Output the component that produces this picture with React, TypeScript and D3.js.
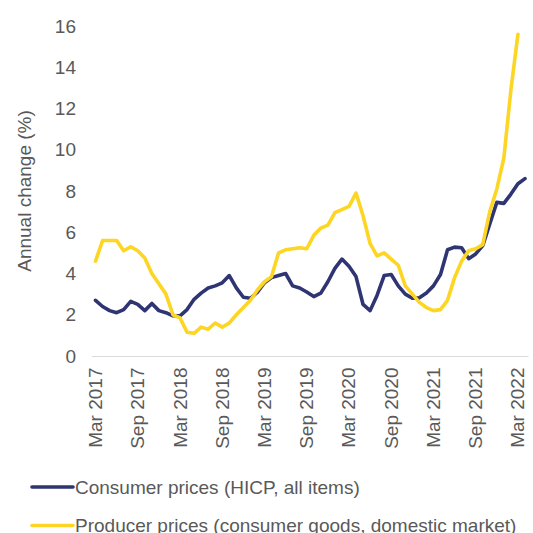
import React from "react";
import * as d3 from "d3";

const months: Date[] = d3.timeMonth.range(new Date(2017, 2, 1), new Date(2022, 4, 1));

const tickLabels = ["Mar 2017", "Sep 2017", "Mar 2018", "Sep 2018", "Mar 2019", "Sep 2019", "Mar 2020", "Sep 2020", "Mar 2021", "Sep 2021", "Mar 2022"];
const yTicks = [0, 2, 4, 6, 8, 10, 12, 14, 16];

const consumerPrices = [
  2.7, 2.4, 2.2, 2.1, 2.25, 2.65, 2.5, 2.2, 2.55, 2.2,
  2.1, 1.95, 1.95, 2.25, 2.75, 3.05, 3.3, 3.4, 3.55, 3.9,
  3.3, 2.85, 2.8, 3.1, 3.55, 3.8, 3.9, 4.0, 3.4, 3.3,
  3.1, 2.88, 3.05, 3.6, 4.25, 4.7, 4.35, 3.85, 2.5, 2.2,
  2.95, 3.9, 3.95, 3.4, 3.0, 2.8, 2.82, 3.05, 3.4, 3.95,
  5.15, 5.28, 5.25, 4.72, 4.95, 5.35, 6.4, 7.45, 7.4, 7.85,
  8.35, 8.6,
];

const producerPrices = [
  4.6, 5.6, 5.6, 5.6, 5.1, 5.3, 5.1, 4.75, 4.0, 3.5,
  3.0, 2.0, 1.85, 1.15, 1.1, 1.4, 1.3, 1.6, 1.4, 1.6,
  2.0, 2.35, 2.7, 3.2, 3.6, 3.85, 5.0, 5.15, 5.2, 5.25,
  5.2, 5.85, 6.2, 6.35, 6.95, 7.1, 7.25, 7.9, 6.8, 5.45,
  4.85, 5.0, 4.7, 4.4, 3.4, 3.0, 2.6, 2.35, 2.2, 2.25,
  2.7, 3.8, 4.6, 5.1, 5.2, 5.4, 7.0, 8.1, 9.6, 12.9,
  15.6,
];

const seriesNames = ["Consumer prices (HICP, all items)", "Producer prices (consumer goods, domestic market)"];
const seriesColors = ["#2e3572", "#fdd523"];

const fmt = d3.timeFormat("%b %Y");
const FONT = "'Liberation Sans', Arial, sans-serif";
const TEXT = "#595959";
const FS = 19;

export default function App() {
  const W = 533, H = 533;
  const x = d3.scaleBand<string>().domain(months.map(fmt)).range([92, 528.5]).paddingInner(0).paddingOuter(0);
  const y = d3.scaleLinear().domain([0, 16]).range([356, 26]);
  const cx = (i: number) => (x(fmt(months[i])) as number) + x.bandwidth() / 2;
  const line = d3.line<number>().x((_, i) => cx(i)).y((v) => y(v));
  const series = [consumerPrices, producerPrices];

  return (
    <svg width={W} height={H} style={{ position: "absolute", left: 0, top: 0, background: "#fff" }} fontFamily={FONT}>
      <line x1={92} x2={528.5} y1={y(0) + 0.5} y2={y(0) + 0.5} stroke="#d9d9d9" strokeWidth={1} />
      {yTicks.map((t) => (
        <text key={t} x={76} y={y(t)} textAnchor="end" dominantBaseline="central" fontSize={FS} fill={TEXT}>{t}</text>
      ))}
      <text transform={`translate(24,${(y(0) + y(16)) / 2}) rotate(-90)`} textAnchor="middle" dominantBaseline="central" fontSize={FS} fill={TEXT}>Annual change (%)</text>
      {tickLabels.map((lab) => {
        const px = (x(lab) as number) + x.bandwidth() / 2;
        return (
          <text key={lab} transform={`translate(${px},367.5) rotate(-90)`} textAnchor="end" dominantBaseline="central" fontSize={FS} fill={TEXT}>{lab}</text>
        );
      })}
      {series.map((s, k) => (
        <path key={k} d={line(s) || ""} fill="none" stroke={seriesColors[k]} strokeWidth={3.6} strokeLinejoin="round" strokeLinecap="round" />
      ))}
      {seriesNames.map((n, k) => {
        const ly = k === 0 ? 487 : 525.5;
        return (
          <g key={n}>
            <line x1={32} x2={73} y1={ly} y2={ly} stroke={seriesColors[k]} strokeWidth={3.6} strokeLinecap="round" />
            <text x={75} y={ly} dominantBaseline="central" fontSize={FS} fill={TEXT}>{n}</text>
          </g>
        );
      })}
    </svg>
  );
}
